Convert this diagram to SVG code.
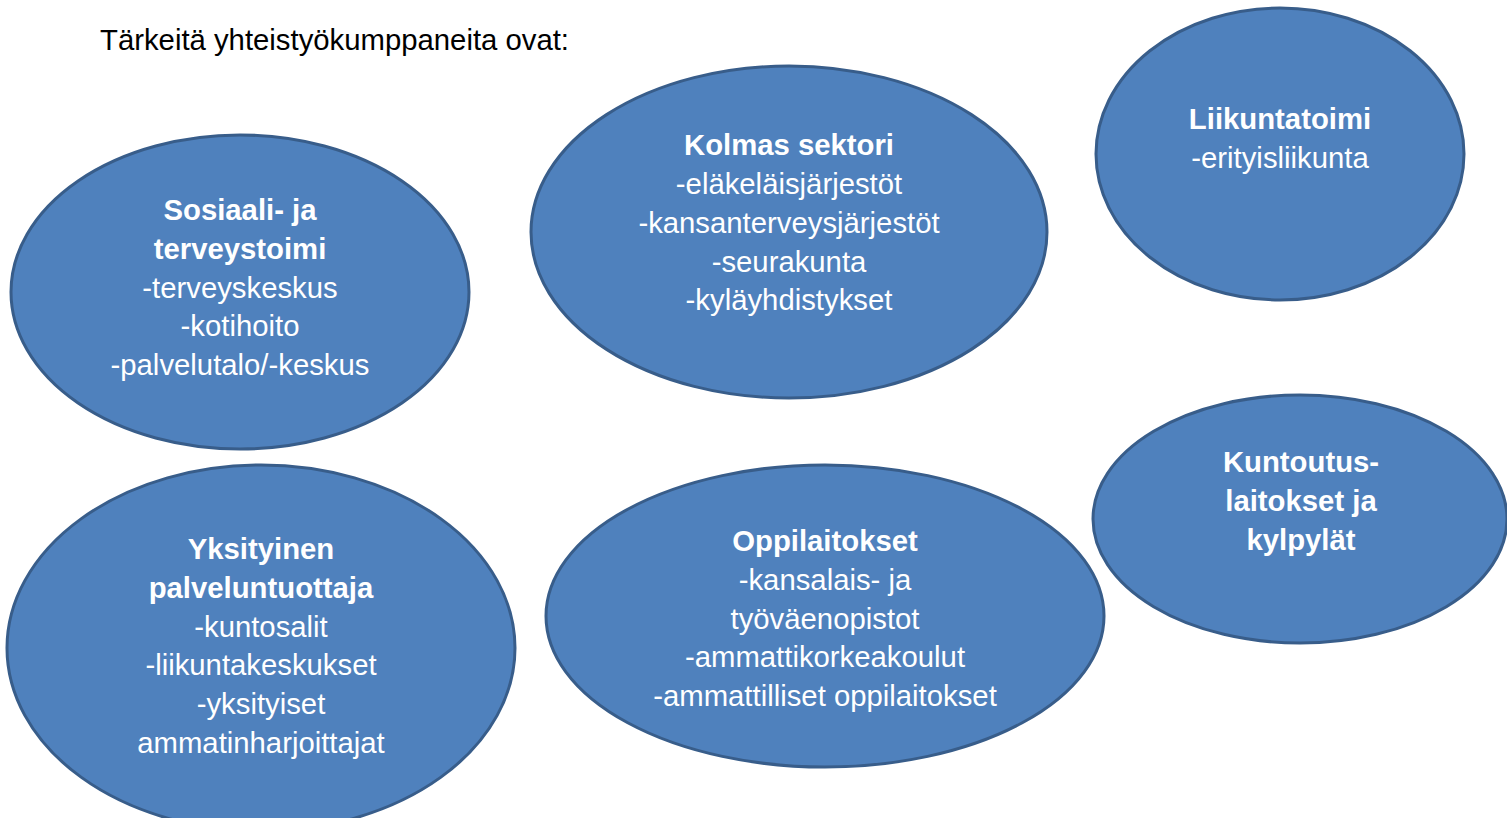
<svg xmlns="http://www.w3.org/2000/svg" width="1507" height="818" viewBox="0 0 1507 818">
<style>
.n{fill:#4f81bd;stroke:#385d8a;stroke-width:3}
.t{font-family:"Liberation Sans",Arial,sans-serif;font-size:29.3px;fill:#ffffff;text-anchor:middle}
.b{font-weight:bold}
.h{font-family:"Liberation Sans",Arial,sans-serif;font-size:29.3px;fill:#000000}
</style>
<rect width="1507" height="818" fill="#ffffff"/>
<text class="h" x="100" y="50">Tärkeitä yhteistyökumppaneita ovat:</text>
<g id="connectors"/>
<g id="sosiaali">
<ellipse class="n" cx="240" cy="292" rx="229" ry="157"/>
<text class="t b" x="240" y="220">Sosiaali- ja</text>
<text class="t b" x="240" y="259">terveystoimi</text>
<text class="t" x="240" y="298">-terveyskeskus</text>
<text class="t" x="240" y="336">-kotihoito</text>
<text class="t" x="240" y="375">-palvelutalo/-keskus</text>
</g>
<g id="kolmas">
<ellipse class="n" cx="789" cy="232" rx="258" ry="166"/>
<text class="t b" x="789" y="155">Kolmas sektori</text>
<text class="t" x="789" y="194">-eläkeläisjärjestöt</text>
<text class="t" x="789" y="233">-kansanterveysjärjestöt</text>
<text class="t" x="789" y="272">-seurakunta</text>
<text class="t" x="789" y="310">-kyläyhdistykset</text>
</g>
<g id="liikunta">
<ellipse class="n" cx="1280" cy="154" rx="184" ry="146"/>
<text class="t b" x="1280" y="129">Liikuntatoimi</text>
<text class="t" x="1280" y="168">-erityisliikunta</text>
</g>
<g id="kuntoutus">
<ellipse class="n" cx="1300" cy="519" rx="207" ry="124"/>
<text class="t b" x="1301" y="472">Kuntoutus-</text>
<text class="t b" x="1301" y="511">laitokset ja</text>
<text class="t b" x="1301" y="550">kylpylät</text>
</g>
<g id="yksityinen">
<ellipse class="n" cx="261" cy="648" rx="254" ry="183"/>
<text class="t b" x="261" y="559">Yksityinen</text>
<text class="t b" x="261" y="598">palveluntuottaja</text>
<text class="t" x="261" y="637">-kuntosalit</text>
<text class="t" x="261" y="675">-liikuntakeskukset</text>
<text class="t" x="261" y="714">-yksityiset</text>
<text class="t" x="261" y="753">ammatinharjoittajat</text>
</g>
<g id="oppilaitokset">
<ellipse class="n" cx="825" cy="616" rx="279" ry="151"/>
<text class="t b" x="825" y="551">Oppilaitokset</text>
<text class="t" x="825" y="590">-kansalais- ja</text>
<text class="t" x="825" y="629">työväenopistot</text>
<text class="t" x="825" y="667">-ammattikorkeakoulut</text>
<text class="t" x="825" y="706">-ammattilliset oppilaitokset</text>
</g>
</svg>
